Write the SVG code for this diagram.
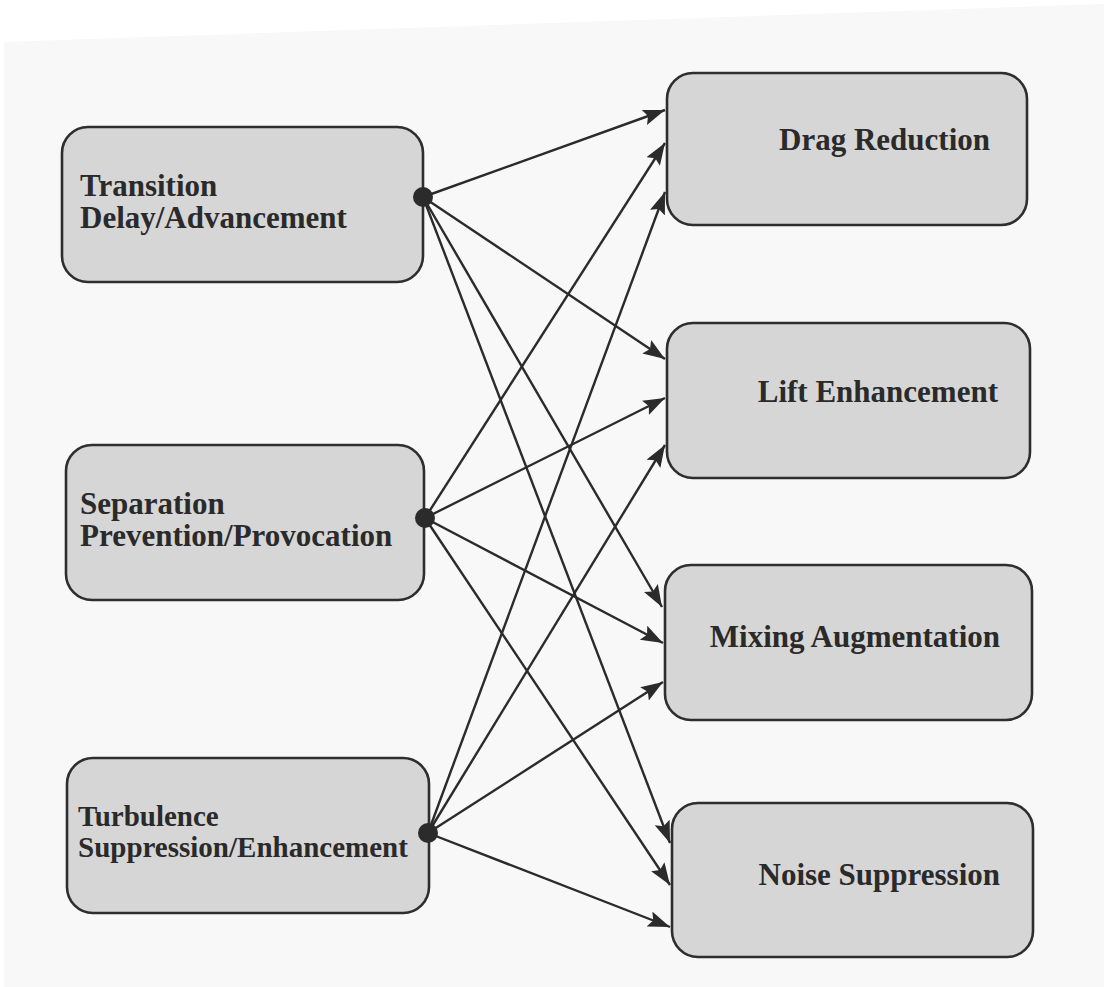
<svg xmlns="http://www.w3.org/2000/svg" width="1110" height="987" viewBox="0 0 1110 987">
  <defs>
    <marker id="arrow" markerUnits="userSpaceOnUse" markerWidth="24" markerHeight="18" refX="22" refY="8" orient="auto">
      <path d="M0,0 L22,8 L0,16 L4,8 Z" fill="#2b2b2b"/>
    </marker>
    <style>
      .box { fill: #d6d6d6; stroke: #2e2e2e; stroke-width: 2.6; }
      .lbl { font-family: "Liberation Serif", "Times New Roman", serif; font-weight: bold; font-size: 31px; fill: #2a2a2a; }
      .small { font-size: 29px; }
      .end { text-anchor: end; }
      .edge { stroke: #2b2b2b; stroke-width: 2.4; fill: none; marker-end: url(#arrow); }
      .dot { fill: #2b2b2b; }
    </style>
  </defs>

  <!-- paper -->
  <rect x="0" y="0" width="1110" height="987" fill="#ffffff"/>
  <polygon points="4,42 1104,4 1104,987 4,987" fill="#f8f8f8"/>

  <!-- sources -->
  <g id="transition">
    <rect class="box" x="62" y="127" width="361" height="155" rx="26"/>
    <text class="lbl" x="80" y="196">Transition</text>
    <text class="lbl" x="80" y="228">Delay/Advancement</text>
  </g>
  <g id="separation">
    <rect class="box" x="66" y="445" width="358" height="155" rx="26"/>
    <text class="lbl" x="80" y="514">Separation</text>
    <text class="lbl" x="80" y="546">Prevention/Provocation</text>
  </g>
  <g id="turbulence">
    <rect class="box" x="67" y="758" width="362" height="155" rx="26"/>
    <text class="lbl small" x="78" y="826">Turbulence</text>
    <text class="lbl small" x="78" y="857">Suppression/Enhancement</text>
  </g>

  <!-- targets -->
  <g id="drag">
    <rect class="box" x="667" y="73" width="360" height="152" rx="26"/>
    <text class="lbl end" x="990" y="150">Drag Reduction</text>
  </g>
  <g id="lift">
    <rect class="box" x="667" y="323" width="363" height="155" rx="26"/>
    <text class="lbl end" x="998" y="402">Lift Enhancement</text>
  </g>
  <g id="mixing">
    <rect class="box" x="665" y="565" width="367" height="155" rx="26"/>
    <text class="lbl end" x="1000" y="647">Mixing Augmentation</text>
  </g>
  <g id="noise">
    <rect class="box" x="672" y="803" width="361" height="154" rx="26"/>
    <text class="lbl end" x="1000" y="885">Noise Suppression</text>
  </g>

  <!-- connectors -->
  <g id="connectors">
    <line class="edge" x1="423" y1="197" x2="665" y2="110"/>
    <line class="edge" x1="423" y1="197" x2="665" y2="359"/>
    <line class="edge" x1="423" y1="197" x2="662" y2="607"/>
    <line class="edge" x1="423" y1="197" x2="670" y2="843"/>

    <line class="edge" x1="425" y1="518" x2="665" y2="143"/>
    <line class="edge" x1="425" y1="518" x2="665" y2="398"/>
    <line class="edge" x1="425" y1="518" x2="663" y2="643"/>
    <line class="edge" x1="425" y1="518" x2="670" y2="885"/>

    <line class="edge" x1="428" y1="833" x2="665" y2="192"/>
    <line class="edge" x1="428" y1="833" x2="665" y2="445"/>
    <line class="edge" x1="428" y1="833" x2="663" y2="682"/>
    <line class="edge" x1="428" y1="833" x2="670" y2="927"/>

    <circle class="dot" cx="423" cy="197" r="10"/>
    <circle class="dot" cx="425" cy="518" r="10"/>
    <circle class="dot" cx="428" cy="833" r="10"/>
  </g>
</svg>
